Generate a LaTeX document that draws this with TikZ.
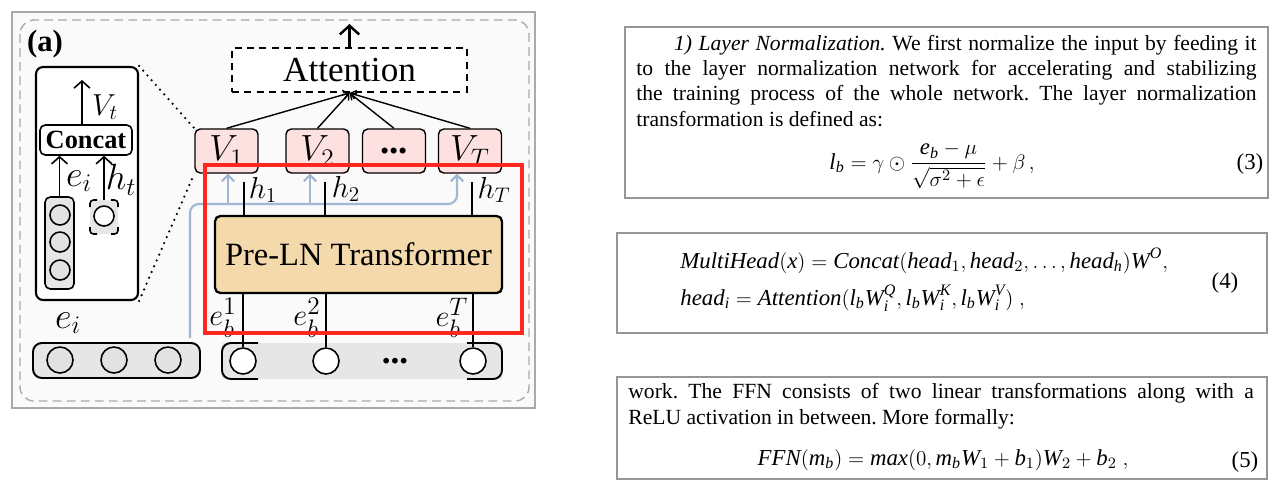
\documentclass[tikz,border=0pt]{standalone}
\usepackage{amsmath}
\usepackage[no-math]{fontspec}
\setmainfont{Liberation Serif}
\usetikzlibrary{arrows.meta}
\frenchspacing
\newcommand{\itx}[1]{\text{\itshape #1}}
\newcommand{\bdots}{\textbf{...}}
\definecolor{vpink}{RGB}{253,224,224}
\definecolor{wheatc}{RGB}{243,217,172}
\definecolor{barg}{RGB}{230,230,230}
\definecolor{circg}{RGB}{226,226,226}
\definecolor{blu}{RGB}{160,182,210}
\definecolor{redb}{RGB}{255,40,30}
\definecolor{frameg}{RGB}{170,170,170}
\definecolor{bgg}{RGB}{250,250,250}
\definecolor{boxg}{RGB}{150,150,150}
\tikzset{
  vbox/.style={draw, line width=0.8pt, fill=vpink, rounded corners=3pt, minimum width=1.26cm, minimum height=0.88cm, inner sep=0pt, font=\fontsize{21}{23}\selectfont},
  circ/.style={circle, draw, line width=0.9pt, minimum size=0.52cm, inner sep=0pt, fill=white},
  gcirc/.style={circle, draw, line width=0.9pt, minimum size=0.52cm, inner sep=0pt, fill=circg},
  scirc/.style={circle, draw, line width=0.9pt, minimum size=0.4cm, inner sep=0pt, fill=circg},
  panelbox/.style={draw, line width=1.2pt, fill=white, rounded corners=4pt, minimum width=2.04cm, minimum height=4.66cm, inner sep=0pt},
  concatbox/.style={draw, line width=0.9pt, fill=white, rounded corners=3pt, minimum width=1.84cm, minimum height=0.6cm, inner sep=0pt, font=\bfseries\fontsize{15}{17}\selectfont},
  colbox/.style={draw, line width=0.9pt, fill=barg, rounded corners=3pt, minimum width=0.58cm, minimum height=1.84cm, inner sep=0pt},
  attbox/.style={draw, dashed, dash pattern=on 4pt off 3pt, line width=1.1pt, fill=white, minimum width=4.7cm, minimum height=0.88cm, inner sep=0pt, font=\fontsize{20}{22}\selectfont},
  transbox/.style={draw, line width=1.3pt, fill=wheatc, rounded corners=3pt, minimum width=5.74cm, minimum height=1.54cm, inner sep=0pt, font=\fontsize{18.5}{20}\selectfont},
  eibox/.style={draw, line width=1.1pt, fill=barg, rounded corners=5pt, minimum width=3.34cm, minimum height=0.7cm, inner sep=0pt},
  barbox/.style={fill=barg, minimum width=5.6cm, minimum height=0.72cm, inner sep=0pt},
  openarr/.style={line width=0.9pt, -{Straight Barb[length=4pt,width=9pt]}},
  upthick/.style={line width=1.4pt, -{Straight Barb[length=5pt,width=11pt]}},
  fan/.style={line width=0.8pt, -{Straight Barb[length=3pt,width=5pt]}},
  bluearr/.style={blu, line width=1.2pt, -{Straight Barb[length=3.5pt,width=7pt]}},
  hline/.style={line width=1.1pt},
  dotl/.style={line width=1.4pt, dash pattern=on 0pt off 3.6pt, line cap=round},
  lab17/.style={inner sep=0pt, font=\fontsize{17}{19}\selectfont},
  lab18/.style={inner sep=0pt, font=\fontsize{18}{20}\selectfont},
  lab19/.style={inner sep=0pt, font=\fontsize{19}{21}\selectfont},
  lab20/.style={inner sep=0pt, font=\fontsize{20}{22}\selectfont},
  para/.style={inner sep=0pt, align=justify, font=\fontsize{12.3}{14.5}\selectfont},
  eqn/.style={inner sep=0pt, font=\fontsize{13}{15}\selectfont},
  tbox/.style={boxg, line width=0.9pt},
}
\begin{document}
\begin{tikzpicture}[x=0.02cm,y=-0.02cm]
\useasboundingbox (0,0) rectangle (1270,485);
\fill[white] (0,0) rectangle (1270,485);
% ---------- left figure ----------
\draw[frameg, line width=1.1pt, fill=bgg] (12,12) rectangle (535,408);
\draw[frameg, line width=0.8pt, dash pattern=on 5pt off 3pt, rounded corners=8pt] (20,20) rectangle (529,401);
\node[inner sep=0pt, font=\bfseries\fontsize{17.5}{20}\selectfont] (alab) at (45,44) {(a)};

% detail panel
\node[panelbox] (panel) at (87,183.5) {};
\node[concatbox] (concat) at (86,140) {Concat};
\coordinate (vt) at (82,80);
\draw[openarr] (concat.north -| vt) -- (vt);
\node[lab18] (vtl) at (105,107) {$V_t$};
\node[colbox] (col) at (59.5,243) {};
\node[scirc] (c1) at (60,215) {};
\node[scirc] (c2) at (60,242) {};
\node[scirc] (c3) at (60,270) {};
\draw[openarr] (col.north) -- (col.north |- concat.south);
\node[fill=barg, minimum width=0.56cm, minimum height=0.68cm, inner sep=0pt] (htb) at (104,217) {};
\draw[line width=0.9pt, rounded corners=2pt] (90,207) -- (90,200) -- (97,200);
\draw[line width=0.9pt, rounded corners=2pt] (111,200) -- (118,200) -- (118,207);
\draw[line width=0.9pt, rounded corners=2pt] (90,227) -- (90,234) -- (97,234);
\draw[line width=0.9pt, rounded corners=2pt] (111,234) -- (118,234) -- (118,227);
\node[scirc, fill=white] (hc) at (104,216) {};
\draw[openarr] (htb.north) -- (htb.north |- concat.south);
\node[lab20] (eil) at (79,181) {$e_i$};
\node[lab20] (htl) at (121,180) {$h_t$};

% V boxes and attention
\node[vbox] (V1) at (226.5,151) {$V_1$};
\node[vbox] (V2) at (317.5,151) {$V_2$};
\node[vbox] (V3) at (394,151) {\bdots};
\node[vbox] (VT) at (470,151) {$V_T$};
\node[attbox] (att) at (349.5,70) {Attention};
\coordinate (atop) at (349.5,24);
\draw[upthick] (att.north) -- (atop);
\foreach \v in {V1,V2,V3,VT} \draw[fan] (\v.north) -- (att.south);

\draw[dotl] (panel.north east) -- (V1.north west);
\draw[dotl] (panel.south east) -- (V1.south west);

% blue skip path
\coordinate (b0) at (190,338);
\coordinate (bc) at (190,204);
\coordinate (bT) at (457,204);
\coordinate (b1) at (228,204);
\coordinate (b2) at (310,204);
\draw[bluearr, rounded corners=5pt] (b0) -- (bc) -- (bT) -- (bT |- VT.south);
\draw[bluearr] (b1) -- (b1 |- V1.south);
\draw[bluearr] (b2) -- (b2 |- V2.south);

% transformer
\node[transbox] (tr) at (358.5,254.5) {Pre-LN Transformer};
\coordinate (h1t) at (244,182);
\coordinate (h2t) at (325,182);
\coordinate (hTt) at (472,182);
\draw[hline] (h1t |- tr.north) -- (h1t);
\draw[hline] (h2t |- tr.north) -- (h2t);
\draw[hline] (hTt |- tr.north) -- (hTt);
\node[lab17] (h1l) at (263,190) {$h_1$};
\node[lab17] (h2l) at (346,189) {$h_2$};
\node[lab17] (hTl) at (494,190) {$h_T$};

% bottom sequence
\node[barbox] (seq) at (362,361) {};
\draw[line width=1.1pt, rounded corners=5pt] (258,343) -- (222,343) -- (222,379) -- (258,379);
\draw[line width=1.1pt, rounded corners=5pt] (467,343) -- (502,343) -- (502,379) -- (467,379);
\node[circ] (s1) at (243,361) {};
\node[circ] (s2) at (326,361) {};
\node[circ] (sT) at (473,361) {};
\node[lab20] (sd) at (395,361) {\bdots};
\draw[hline] (s1.north |- tr.south) -- (s1.north);
\draw[hline] (s2.north |- tr.south) -- (s2.north);
\draw[hline] (sT.north |- tr.south) -- (sT.north);
\node[lab19] (e1l) at (223,318) {$e_b^1$};
\node[lab19] (e2l) at (307,318) {$e_b^2$};
\node[lab19] (eTl) at (452,318) {$e_b^T$};

\node[eibox] (eib) at (116.5,360.5) {};
\node[gcirc] (ei1) at (60,360) {};
\node[gcirc] (ei2) at (114,360) {};
\node[gcirc] (ei3) at (168,360) {};
\node[lab20] (eil2) at (68,323) {$e_i$};

\draw[redb, line width=2.3pt] (205,165) rectangle (522,333);

% ---------- right text boxes ----------
\draw[tbox] (625,27) rectangle (1268,198);
\node[para, anchor=base west, text width=353pt] (p1) at (636,50) {\hspace*{21.5pt}\textit{1) Layer Normalization.} We first normalize the input by feeding it\linebreak to the layer normalization network for accelerating and stabilizing\linebreak the training process of the whole network. The layer normalization\linebreak transformation is defined as:};
\node[eqn, anchor=base] (eq3) at (932,169) {$\displaystyle \itx{l}_{\itx{b}} = \gamma\odot\frac{\itx{e}_{\itx{b}}-\mu}{\sqrt{\sigma^2+\epsilon}}+\beta\,,$};
\node[eqn, anchor=base] (t3) at (1250,169) {(3)};

\draw[tbox] (617,233) rectangle (1267,333);
\node[eqn, anchor=base west] (eq4a) at (680,268) {$\itx{MultiHead}(\itx{x}) = \itx{Concat}(\itx{head}_1, \itx{head}_2, \ldots, \itx{head}_{\itx{h}})\itx{W}^{\itx{O}},$};
\node[eqn, anchor=base west] (eq4b) at (680,305) {$\itx{head}_{\itx{i}} = \itx{Attention}(\itx{l}_{\itx{b}}\itx{W}_{\itx{i}}^{\itx{Q}}, \itx{l}_{\itx{b}}\itx{W}_{\itx{i}}^{\itx{K}}, \itx{l}_{\itx{b}}\itx{W}_{\itx{i}}^{\itx{V}})\ ,$};
\node[eqn, anchor=base] (t4) at (1225,288) {(4)};

\draw[tbox] (617,377) rectangle (1267,479);
\node[para, anchor=base west, text width=356pt, font=\fontsize{12.3}{15.3}\selectfont] (p3) at (628,398) {work. The FFN consists of two linear transformations along with a\linebreak ReLU activation in between. More formally:};
\node[eqn, anchor=base] (eq5) at (943,465) {$\itx{FFN}(\itx{m}_{\itx{b}}) = \itx{max}(0, \itx{m}_{\itx{b}}\itx{W}_1 + \itx{b}_1)\itx{W}_2 + \itx{b}_2\ ,$};
\node[eqn, anchor=base] (t5) at (1245,467) {(5)};
\end{tikzpicture}
\end{document}
